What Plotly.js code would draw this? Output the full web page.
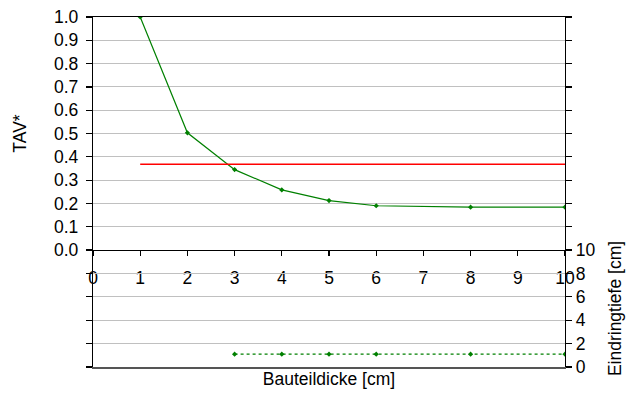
<!DOCTYPE html>
<html>
<head>
<meta charset="utf-8">
<script src="https://cdn.plot.ly/plotly-3.0.1.min.js"></script>
<style>html,body{margin:0;padding:0;background:#fff;}#chart{width:629px;height:396px;}</style>
</head>
<body>
<div id="chart"></div>
<script>
// Data
const thickness = [1, 2, 3, 4, 5, 6, 8, 10];
const tavValues = [1.0, 0.503, 0.345, 0.258, 0.212, 0.190, 0.184, 0.184];
const limitX = [1, 10];
const limitY = [0.368, 0.368];
const depthX = [3, 4, 5, 6, 8, 10];
const depthValues = [1.1, 1.1, 1.1, 1.1, 1.1, 1.1];
const xTicks = [0, 1, 2, 3, 4, 5, 6, 7, 8, 9, 10];

const green = '#008000';
const font = {family: 'Liberation Sans, Arial, sans-serif', size: 17.5, color: '#000'};

const traces = [
  {x: thickness, y: tavValues, xaxis: 'x', yaxis: 'y', mode: 'lines+markers',
   line: {color: green, width: 1.2}, marker: {color: green, size: 4, symbol: 'diamond'}, showlegend: false},
  {x: limitX, y: limitY, xaxis: 'x', yaxis: 'y', mode: 'lines',
   line: {color: '#ff0000', width: 1.3}, showlegend: false},
  {x: depthX, y: depthValues, xaxis: 'x2', yaxis: 'y2', mode: 'lines+markers',
   line: {color: green, width: 1.2, dash: 'dot'}, marker: {color: green, size: 4, symbol: 'diamond'}, showlegend: false}
];

const split = 117 / 350;
const layout = {
  width: 629, height: 396,
  margin: {l: 93, r: 64, t: 17, b: 29, pad: 0},
  paper_bgcolor: '#fff', plot_bgcolor: '#fff',
  font: font,
  showlegend: false,
  xaxis: {
    domain: [0, 1], anchor: 'y', range: [0, 10], tickvals: xTicks, ticktext: xTicks.map(String),
    showline: true, linecolor: '#000', linewidth: 1.2, mirror: true,
    ticks: 'outside', ticklen: 5, tickcolor: '#000', tickwidth: 1.2,
    showgrid: false, zeroline: false, ticklabelstandoff: 7, tickfont: font
  },
  xaxis2: {
    domain: [0, 1], anchor: 'y2', matches: 'x', range: [0, 10],
    showline: true, linecolor: '#555', linewidth: 1.5, ticks: '', showticklabels: false,
    showgrid: false, zeroline: false,
    title: {text: 'Bauteildicke [cm]', font: font, standoff: 5}
  },
  yaxis: {
    domain: [split, 1], anchor: 'x', range: [0, 1], dtick: 0.1, tick0: 0, tickformat: '.1f',
    showline: true, linecolor: '#000', linewidth: 1.2, mirror: 'ticks',
    ticks: 'outside', ticklen: 6, tickcolor: '#000', tickwidth: 1.2,
    showgrid: true, gridcolor: '#c0c0c0', gridwidth: 1, zeroline: false,
    tickfont: font, ticklabelstandoff: 4,
    title: {text: 'TAV*', font: font, standoff: 22}
  },
  yaxis2: {
    domain: [0, split], anchor: 'x2', side: 'right', range: [0, 10], dtick: 2, tick0: 0,
    showline: true, linecolor: '#000', linewidth: 1.2, mirror: 'ticks',
    ticks: 'outside', ticklen: 6, tickcolor: '#000', tickwidth: 1.2,
    showgrid: true, gridcolor: '#c0c0c0', gridwidth: 1, zeroline: false,
    tickfont: font,
    title: {text: 'Eindringtiefe [cm]', font: font, standoff: 14}
  }
};

Plotly.newPlot('chart', traces, layout, {displayModeBar: false, staticPlot: true});
</script>
</body>
</html>
